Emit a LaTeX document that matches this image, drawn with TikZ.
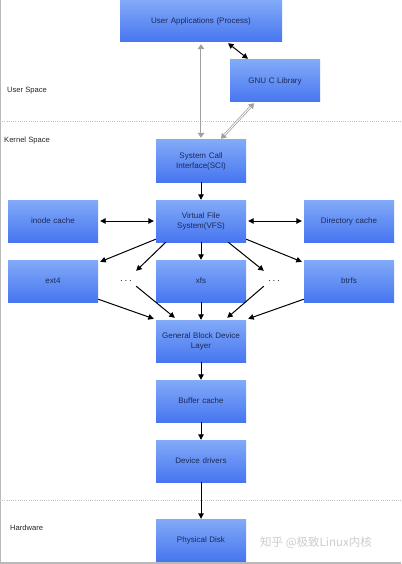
\documentclass[tikz,border=0pt]{standalone}
\usepackage{fontspec}
\setmainfont{Liberation Sans}
\newfontfamily\cjk{Noto Sans CJK SC}
\usetikzlibrary{arrows.meta}
\definecolor{boxtop}{HTML}{82AAF8}
\definecolor{boxbot}{HTML}{4776F0}
\definecolor{boxtext}{HTML}{1C2A58}
\tikzset{
  blk/.style={top color=boxtop, bottom color=boxbot, draw=none, minimum height=42pt,
    inner sep=1pt, align=center, text=boxtext, font=\fontsize{8}{10}\selectfont},
  smallbox/.style={blk, minimum width=90pt, text width=88pt},
  arr/.style={black, line width=1pt, -{Triangle[length=5.5pt,width=5.5pt]}},
  darr/.style={black, line width=1pt, {Triangle[length=5.5pt,width=5.5pt]}-{Triangle[length=5.5pt,width=5.5pt]}},
  garr/.style={gray!75, line width=2.4pt, {Triangle[length=5pt,width=6.5pt]}-{Triangle[length=5pt,width=6.5pt]}},
  ginner/.style={white, line width=0.9pt, shorten <=5pt, shorten >=5pt},
  lbl/.style={anchor=west, inner sep=0pt, font=\fontsize{7.6}{9}\selectfont, text=black!85},
  sep/.style={gray!50, dash pattern=on 1pt off 1.2pt, line width=0.4pt},
  dots/.style={minimum width=20pt, minimum height=20pt, inner sep=0pt}
}
\begin{document}
\begin{tikzpicture}[x=1pt,y=-1pt]
\useasboundingbox (0,0) rectangle (401,564);
\fill[white] (0,0) rectangle (401,564);
% frame lines
\draw[gray!55, line width=1pt] (0.5,0) -- (0.5,563);
\draw[gray!55, line width=1.5pt] (0,563) -- (401,563);
% separators
\draw[sep] (0,121) -- (401,121);
\draw[sep] (0,500) -- (401,500);
% region labels
\node[lbl] (us) at (7,91) {User Space};
\node[lbl] (ks) at (4,141) {Kernel Space};
\node[lbl] (hw) at (10,528) {Hardware};
% boxes
\node[blk, minimum width=162pt, text width=158pt] (ua) at (201,21) {User Applications (Process)};
\node[smallbox] (glibc) at (275,81) {GNU C Library};
\node[smallbox] (sci) at (201,161) {System Call\\Interface(SCI)};
\node[smallbox] (vfs) at (201,221) {Virtual File\\System(VFS)};
\node[smallbox] (inode) at (53,221) {inode cache};
\node[smallbox] (dcache) at (349,221) {Directory cache};
\node[smallbox] (ext4) at (53,281) {ext4};
\node[smallbox] (xfs) at (201,281) {xfs};
\node[smallbox] (btrfs) at (349,281) {btrfs};
\node[dots] (dl) at (126,281) {$\cdots$};
\node[dots] (dr) at (274,281) {$\cdots$};
\node[smallbox] (gbdl) at (201,341) {General Block Device\\Layer};
\node[smallbox] (buf) at (201,401) {Buffer cache};
\node[smallbox] (dev) at (201,461) {Device drivers};
\node[smallbox] (disk) at (201,540) {Physical Disk};
% watermark
\node[anchor=west, inner sep=0pt, text=gray!40, font=\cjk\fontsize{11.5}{12}\selectfont] (wm) at (260,543) {知乎 @极致Linux内核};
% user space connectors
\draw[garr] ([yshift=-2pt]ua.south) -- ([yshift=2pt]sci.north);
\draw[ginner] ([yshift=-2pt]ua.south) -- ([yshift=2pt]sci.north);
\draw[garr] ([xshift=-21pt,yshift=-1pt]glibc.south) -- ([xshift=20pt,yshift=1pt]sci.north);
\draw[ginner] ([xshift=-21pt,yshift=-1pt]glibc.south) -- ([xshift=20pt,yshift=1pt]sci.north);
\draw[darr] ([xshift=27pt,yshift=-1pt]ua.south) -- ([xshift=-27pt,yshift=1pt]glibc.north);
% kernel connectors
\draw[arr] (sci.south) -- (vfs.north);
\draw[darr] ([xshift=2pt]inode.east) -- ([xshift=-2pt]vfs.west);
\draw[darr] ([xshift=2pt]vfs.east) -- ([xshift=-2pt]dcache.west);
\draw[arr] ([yshift=3pt]vfs.south west) -- ([xshift=2pt,yshift=-2pt]ext4.north east);
\draw[arr] ([xshift=10pt]vfs.south west) -- (dl.north east);
\draw[arr] (vfs.south) -- (xfs.north);
\draw[arr] ([xshift=-18pt]vfs.south east) -- (dr.north west);
\draw[arr] ([yshift=3pt]vfs.south east) -- ([xshift=-2pt,yshift=-2pt]btrfs.north west);
\draw[arr] ([yshift=3pt]ext4.south east) -- ([xshift=-2pt,yshift=1pt]gbdl.north west);
\draw[arr] ([yshift=5pt]dl.south east) -- ([xshift=19pt,yshift=2pt]gbdl.north west);
\draw[arr] (xfs.south) -- (gbdl.north);
\draw[arr] ([yshift=5pt]dr.south west) -- ([xshift=-19pt,yshift=2pt]gbdl.north east);
\draw[arr] ([yshift=3pt]btrfs.south west) -- ([xshift=2pt,yshift=1pt]gbdl.north east);
\draw[arr] (gbdl.south) -- (buf.north);
\draw[arr] (buf.south) -- (dev.north);
\draw[arr] (dev.south) -- (disk.north);
\end{tikzpicture}
\end{document}
